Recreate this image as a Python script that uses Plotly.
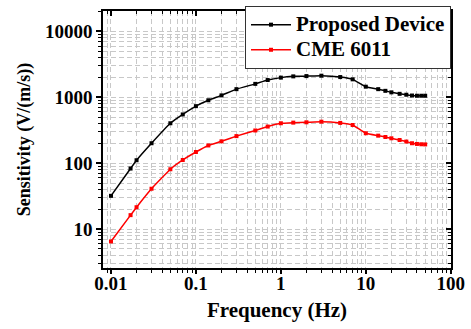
import plotly.graph_objects as go

freq = [0.01, 0.017, 0.02, 0.03, 0.05, 0.07, 0.1, 0.14, 0.2, 0.3, 0.5, 0.7,
        1, 1.4, 2, 3, 5, 7, 10, 14, 17, 20, 25, 30, 35, 40, 45, 50]
proposed = [32, 83, 111, 201, 404, 550, 735, 902, 1070, 1330, 1600, 1830,
            1990, 2080, 2100, 2130, 2030, 1875, 1450, 1330, 1255, 1190, 1130, 1095,
            1065, 1057, 1057, 1057]
cme = [6.5, 16.3, 21.5, 41, 81, 112, 148, 186, 215, 258, 314, 360,
       404, 413, 418, 427, 409, 380, 285, 262, 250, 239, 225, 213,
       201, 196, 194, 193]
series_names = ["Proposed Device", "CME 6011"]

x_tickvals = [0.01, 0.1, 1, 10, 100]
x_ticktext = ["0.01", "0.1", "1", "10", "100"]
y_tickvals = [10, 100, 1000, 10000]
y_ticktext = ["10", "100", "1000", "10000"]

FONT = "Liberation Serif, Times New Roman, serif"
GRID = "#c8c8c8"


def legend_label(s):
    return '<span style="font-size:21px">' + s + '</span>'


fig = go.Figure()
fig.add_trace(go.Scatter(x=freq, y=proposed, mode="lines+markers", name=legend_label(series_names[0]),
                         line=dict(color="black", width=1.5, shape="spline", smoothing=0.3),
                         marker=dict(symbol="square", size=4, color="black")))
fig.add_trace(go.Scatter(x=freq, y=cme, mode="lines+markers", name=legend_label(series_names[1]),
                         line=dict(color="#ff0000", width=1.5, shape="spline", smoothing=0.3),
                         marker=dict(symbol="square", size=4, color="#ff0000")))
# empty trace to activate mirrored (inward-tick) axes
fig.add_trace(go.Scatter(x=[], y=[], xaxis="x2", yaxis="y2", showlegend=False, hoverinfo="skip"))

xr = [-2.094, 2.003]
yr = [0.41, 4.31]

common_minor_grid = dict(showgrid=True, gridcolor=GRID, griddash="5px,3px", gridwidth=1)

fig.update_layout(
    width=471, height=329,
    margin=dict(l=103, r=18, t=6, b=61),
    paper_bgcolor="white", plot_bgcolor="white",
    font=dict(family=FONT, color="black", size=19, weight="bold"),
    showlegend=True,
    legend=dict(x=1.0, y=1.019, xanchor="right", yanchor="top",
                bgcolor="white", bordercolor="#333333", borderwidth=1,
                font=dict(family=FONT, size=17, weight="bold", color="black"),
                tracegroupgap=0, itemwidth=40),
    xaxis=dict(type="log", range=xr, tickvals=x_tickvals, ticktext=x_ticktext,
               ticks="outside", ticklen=4, tickwidth=1.5, tickcolor="black",
               showline=True, linecolor="black", linewidth=1.5, mirror=True,
               showgrid=True, gridcolor=GRID, griddash="5px,3px", gridwidth=1,
               zeroline=False, ticklabelstandoff=-7,
               tickfont=dict(family=FONT, size=19, weight="bold"),
               title=dict(text="Frequency (Hz)", standoff=10,
                          font=dict(family=FONT, size=21, weight="bold")),
               minor=dict(dtick="D1", ticks="outside", ticklen=3, tickcolor="black", tickwidth=1,
                          **common_minor_grid)),
    yaxis=dict(type="log", range=yr, tickvals=y_tickvals, ticktext=y_ticktext,
               ticks="outside", ticklen=5, tickwidth=1.5, tickcolor="black",
               showline=True, linecolor="black", linewidth=1.5, mirror=True,
               showgrid=True, gridcolor=GRID, griddash="5px,3px", gridwidth=1,
               zeroline=False,
               tickfont=dict(family=FONT, size=19, weight="bold"),
               title=dict(text="Sensitivity (V/(m/s))", standoff=10,
                          font=dict(family=FONT, size=18, weight="bold")),
               minor=dict(dtick="D1", ticks="outside", ticklen=3, tickcolor="black", tickwidth=1,
                          **common_minor_grid)),
    xaxis2=dict(type="log", range=xr, overlaying="x", side="top", anchor="y",
                tickvals=x_tickvals, ticks="inside", ticklen=5, tickwidth=1.5, tickcolor="black",
                showticklabels=False, showgrid=False, showline=False, zeroline=False,
                minor=dict(dtick="D1", ticks="inside", ticklen=3, tickcolor="black", tickwidth=1,
                           showgrid=False)),
    yaxis2=dict(type="log", range=yr, overlaying="y", side="right", anchor="x",
                tickvals=y_tickvals, ticks="inside", ticklen=5, tickwidth=1.5, tickcolor="black",
                showticklabels=False, showgrid=False, showline=False, zeroline=False,
                minor=dict(dtick="D1", ticks="inside", ticklen=3, tickcolor="black", tickwidth=1,
                           showgrid=False)),
)

fig.write_html("out.html", config={"displayModeBar": False},
               post_script="document.body.style.margin='0';document.body.style.overflow='hidden';")
